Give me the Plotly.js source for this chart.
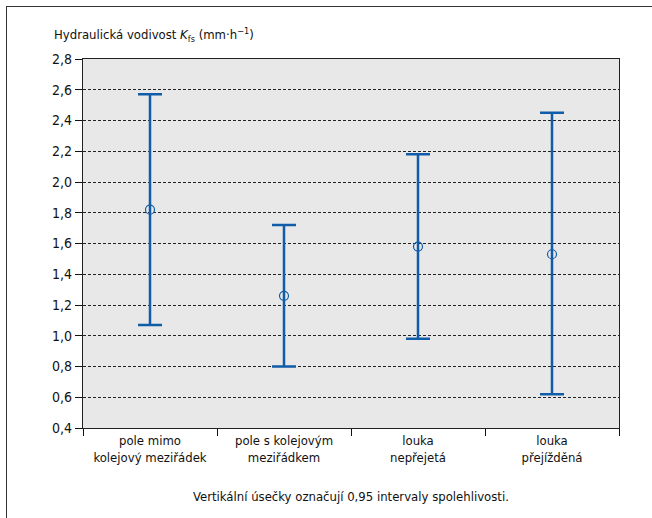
<!DOCTYPE html>
<html>
<head>
<meta charset="utf-8">
<script src="https://cdn.plot.ly/plotly-3.0.1.min.js"></script>
<style>
  html, body { margin: 0; padding: 0; background: #fff; }
  #wrap { position: relative; width: 652px; height: 518px; }
  #chart { position: absolute; left: 0; top: 0; width: 652px; height: 518px; }
  #frame { position: absolute; left: 6px; top: 6px; right: -2px; bottom: -2px;
           border-left: 1.5px solid #333; border-top: 1.5px solid #333; pointer-events: none; }
</style>
</head>
<body>
<div id="wrap">
  <div id="chart"></div>
  <div id="frame"></div>
</div>
<script>
const categories = [
  "pole mimo<br>kolejový meziřádek",
  "pole s kolejovým<br>meziřádkem",
  "louka<br>nepřejetá",
  "louka<br>přejížděná"
];
const means = [1.82, 1.26, 1.58, 1.53];
const upper = [2.57, 1.72, 2.18, 2.45];
const lower = [1.07, 0.80, 0.98, 0.62];
const yTicks = [0.4, 0.6, 0.8, 1.0, 1.2, 1.4, 1.6, 1.8, 2.0, 2.2, 2.4, 2.6, 2.8];

const errPlus = upper.map((u, i) => +(u - means[i]).toFixed(3));
const errMinus = lower.map((l, i) => +(means[i] - l).toFixed(3));

const FONT = '"DejaVu Sans Condensed", "Liberation Sans Narrow", sans-serif';
const BLUE = '#115ca8';
const FS = 13;

const trace = {
  type: 'scatter',
  mode: 'markers',
  x: categories,
  y: means,
  marker: { symbol: 'circle-open', size: 9, color: BLUE, line: { width: 1.2, color: BLUE } },
  error_y: {
    type: 'data', symmetric: false,
    array: errPlus, arrayminus: errMinus,
    color: BLUE, thickness: 2.5, width: 12
  },
  showlegend: false,
  hoverinfo: 'skip'
};

const layout = {
  width: 652, height: 518,
  margin: { l: 83, r: 33, t: 59, b: 90 },
  paper_bgcolor: '#ffffff',
  plot_bgcolor: '#e8e8e8',
  separators: ', ',
  font: { family: FONT, size: FS, color: '#111' },
  xaxis: {
    type: 'category',
    range: [-0.5, 3.5],
    tickson: 'boundaries',
    ticks: 'outside', ticklen: 7, tickcolor: '#111', tickwidth: 1,
    showgrid: false,
    showline: true, linecolor: '#222', linewidth: 1.2, mirror: true,
    tickfont: { family: FONT, size: FS, color: '#111' },
    fixedrange: true
  },
  yaxis: {
    range: [0.4, 2.8],
    tickvals: yTicks,
    tickformat: '.1f',
    ticks: 'outside', ticklen: 7, tickcolor: '#111', tickwidth: 1,
    showgrid: true, gridcolor: '#222', gridwidth: 1, griddash: '3px,2px',
    zeroline: false,
    showline: true, linecolor: '#222', linewidth: 1.2, mirror: true,
    tickfont: { family: FONT, size: FS + 1, color: '#111' },
    fixedrange: true
  },
  annotations: [
    {
      xref: 'paper', yref: 'paper', x: -0.058, y: 1.035,
      xanchor: 'left', yanchor: 'bottom', showarrow: false,
      text: 'Hydraulická vodivost <i>K</i><sub>fs</sub> (mm·h<sup>−1</sup>)',
      font: { family: FONT, size: FS, color: '#111' }
    },
    {
      xref: 'paper', yref: 'paper', x: 0.5, y: -0.185,
      xanchor: 'center', yanchor: 'middle', showarrow: false,
      text: 'Vertikální úsečky označují 0,95 intervaly spolehlivosti.',
      font: { family: FONT, size: FS, color: '#111' }
    }
  ]
};

Plotly.newPlot('chart', [trace], layout, { displayModeBar: false, staticPlot: true });
</script>
</body>
</html>
